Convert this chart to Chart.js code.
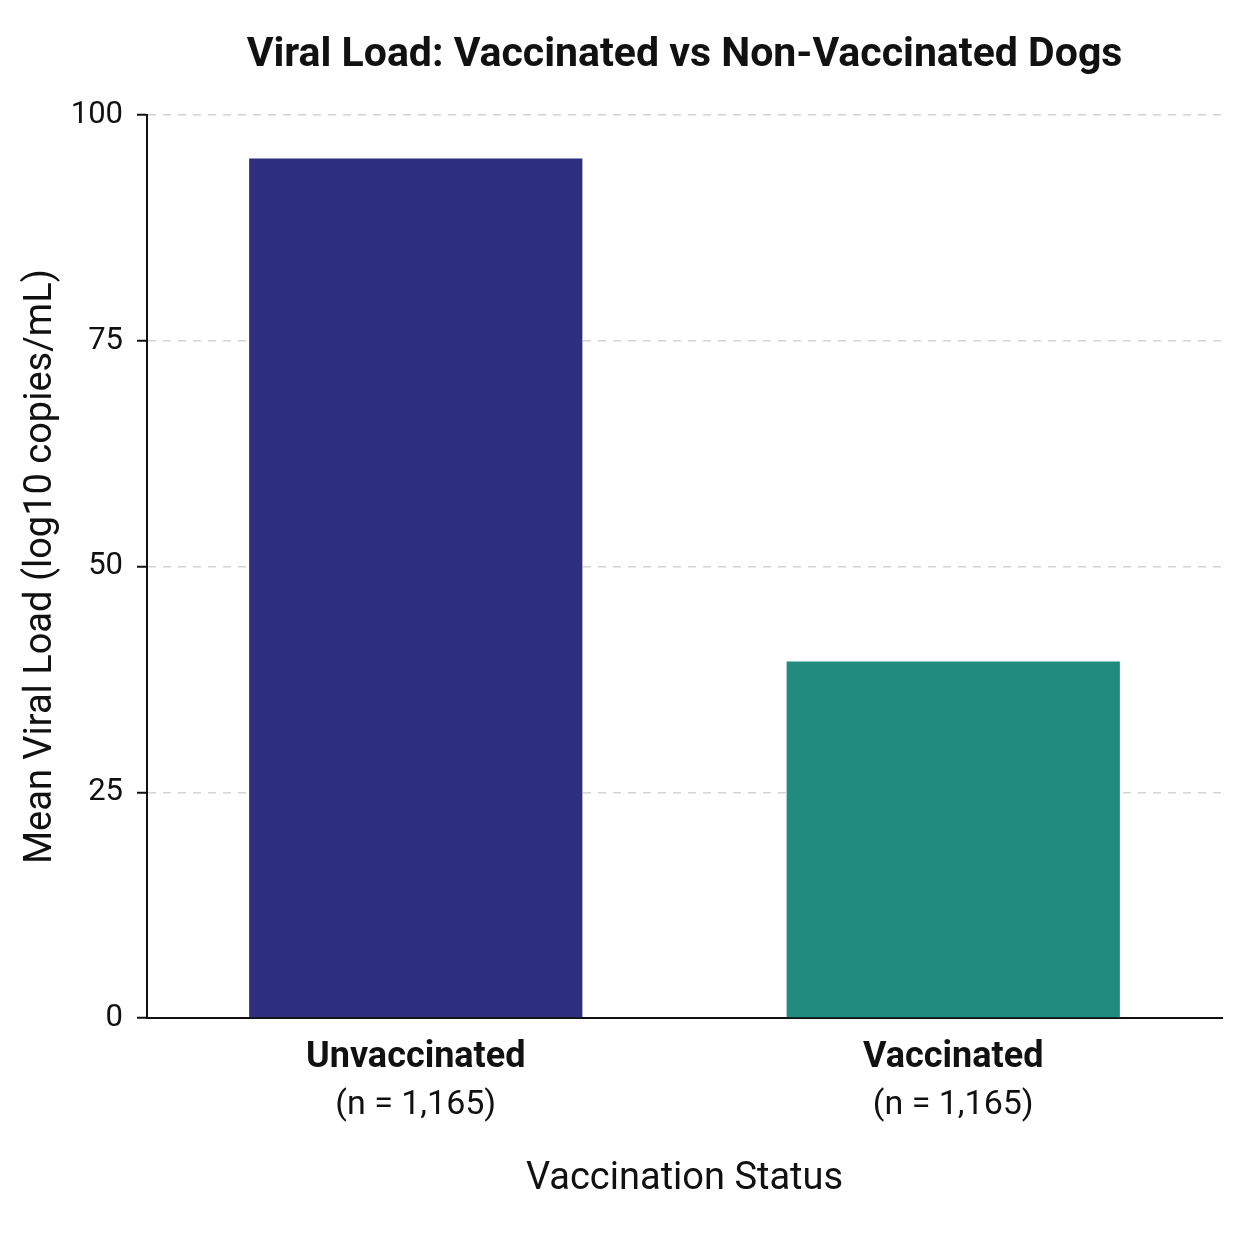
<!DOCTYPE html>
<html>
<head>
<meta charset="utf-8">
<script src="https://cdn.jsdelivr.net/npm/chart.js@4/dist/chart.umd.min.js"></script>
<style>
  html, body { margin: 0; padding: 0; background: #ffffff; }
  #wrap { width: 1254px; height: 1254px; }
</style>
</head>
<body>
<div id="wrap"><canvas id="chart" width="1254" height="1254"></canvas></div>
<script>
const categories = ["Unvaccinated", "Vaccinated"];
const sampleSizes = ["(n = 1,165)", "(n = 1,165)"];
const meanViralLoad = [95.2, 39.5];
const barColors = ["#2c2f7e", "#1f8c7f"];
const yTicks = [0, 25, 50, 75, 100];

Chart.defaults.font.family = "Roboto, 'Noto Sans', sans-serif";
Chart.defaults.color = "#111111";

const ctx = document.getElementById("chart");
new Chart(ctx, {
    type: 'bar',
    data: {
        labels: categories,
        datasets: [{
            label: "Mean Viral Load",
            data: meanViralLoad,
            backgroundColor: barColors,
            borderWidth: 0,
            barPercentage: 0.62,
            categoryPercentage: 1.0
        }]
    },
    options: {
        responsive: false,
        animation: false,
        layout: { padding: { left: 0, right: 32, top: 0, bottom: 40 } },
        plugins: {
            legend: { display: false },
            tooltip: { enabled: false },
            title: {
                display: true,
                fullSize: false,
                text: "Viral Load: Vaccinated vs Non-Vaccinated Dogs",
                font: { size: 41, weight: 'bold' },
                color: "#111111",
                padding: { top: 31, bottom: 35 }
            }
        },
        scales: {
            x: {
                position: 'bottom',
                afterFit: (scale) => { scale.height = 51; },
                grid: { display: false },
                border: { display: true, color: "#111111", width: 2 },
                ticks: {
                    font: { size: 36, weight: 'bold' },
                    color: "#111111",
                    padding: 10
                }
            },
            x2: {
                type: 'category',
                position: 'bottom',
                labels: sampleSizes,
                afterFit: (scale) => { scale.height = 145; },
                grid: { display: false },
                border: { display: false },
                ticks: {
                    font: { size: 34 },
                    color: "#111111",
                    padding: 8
                },
                title: {
                    display: true,
                    text: "Vaccination Status",
                    font: { size: 38 },
                    color: "#111111",
                    padding: { top: 0, bottom: 12 }
                }
            },
            y: {
                min: 0,
                max: 100,
                afterBuildTicks: (scale) => {
                    scale.ticks = yTicks.map(v => ({ value: v }));
                },
                afterFit: (scale) => { scale.width = 147; },
                grid: {
                    color: (c) => c.tick && c.tick.value === 0 ? 'rgba(0,0,0,0)' : "#d4d4d4",
                    lineWidth: 1.5,
                    tickColor: "#111111",
                    tickLength: 10,
                    tickWidth: 2
                },
                border: { display: true, color: "#111111", width: 2, dash: [8, 7] },
                ticks: {
                    font: { size: 31 },
                    color: "#111111",
                    padding: 14
                },
                title: {
                    display: true,
                    text: "Mean Viral Load (log10 copies/mL)",
                    font: { size: 38 },
                    color: "#111111",
                    padding: { top: 19, bottom: 0 }
                }
            }
        }
    }
});
</script>
</body>
</html>
